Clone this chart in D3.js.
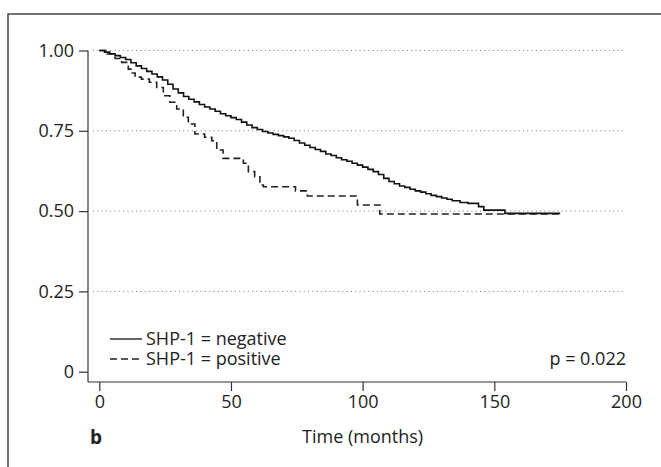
<!DOCTYPE html>
<html>
<head>
<meta charset="utf-8">
<script src="https://cdn.jsdelivr.net/npm/d3@7"></script>
<style>
  body { margin: 0; background: #fff; }
  svg { display: block; font-family: "Open Sans", "Noto Sans", sans-serif; }
</style>
</head>
<body>
<div id="chart"></div>
<script>
// Kaplan-Meier steps: [time in months, survival]
const negTimes = [0, 2, 4, 6, 8, 10, 12, 14, 16, 18, 20, 22, 24, 26, 28, 30, 32, 34, 36, 38, 40,
  42, 44, 46, 48, 50, 52, 54, 56, 58, 60, 62, 64, 66, 68, 70, 72, 74, 76, 78, 80, 82, 84, 86, 88,
  90, 92, 94, 96, 98, 100, 102, 104, 106, 108, 110, 112, 114, 116, 118, 120, 122, 124, 126, 128,
  130, 132, 134, 137, 140, 144, 146, 154, 175];
const negSurv = [1.0, .995, .99, .984, .978, .972, .962, .952, .944, .935, .927, .918, .908, .895,
  .880, .868, .857, .848, .840, .832, .824, .818, .811, .803, .797, .791, .785, .777, .768, .760,
  .754, .748, .743, .739, .735, .731, .727, .720, .712, .705, .698, .692, .686, .678, .673, .666,
  .660, .655, .649, .643, .637, .630, .623, .614, .602, .592, .585, .578, .574, .568, .563, .559,
  .554, .549, .545, .541, .537, .532, .527, .524, .514, .503, .493, .493];

const posTimes = [0, 3, 6, 8.5, 11, 12.5, 13.6, 16, 19, 21.8, 24.3, 26.8, 29.4, 31.9, 33.8, 36.3,
  40, 42.7, 44.6, 47, 54.7, 56.6, 59, 61, 62.3, 74.5, 79, 98, 106.5, 175];
const posSurv = [1.0, .989, .975, .963, .942, .93, .917, .911, .901, .885, .859, .839, .818, .792,
  .771, .740, .730, .719, .690, .664, .649, .623, .607, .581, .576, .563, .547, .519, .491, .491];

const xTicks = [0, 50, 100, 150, 200];
const yTicks = [0, 0.25, 0.5, 0.75, 1];
const yGrid = [0.25, 0.5, 0.75, 1];
const legendLabels = ["SHP-1 = negative", "SHP-1 = positive"];
const pLabel = "p = 0.022";

const W = 661, H = 467;
const FS = 18;
const svg = d3.select("#chart").append("svg").attr("width", W).attr("height", H);

// outer frame (only left/top visible)
svg.append("rect")
  .attr("x", 8).attr("y", 14)
  .attr("width", 700).attr("height", 500)
  .attr("fill", "none").attr("stroke", "#444").attr("stroke-width", 1.5);

const x = d3.scaleLinear().domain([0, 200]).range([99.3, 626]);
const y = d3.scaleLinear().domain([0, 1]).range([371.7, 50.5]);
const axisX = 88, axisY = 382;

// dotted grid
svg.append("g").selectAll("line")
  .data(yGrid)
  .join("line")
  .attr("x1", 93).attr("x2", 626)
  .attr("y1", d => y(d)).attr("y2", d => y(d))
  .attr("stroke", "#777").attr("stroke-width", 1)
  .attr("stroke-dasharray", "1,3.3");

// y axis
const yAxis = svg.append("g")
  .attr("transform", `translate(${axisX},0)`)
  .call(d3.axisLeft(y).tickValues(yTicks).tickSize(9).tickPadding(5)
    .tickFormat(d => d === 0 ? "0" : d3.format(".2f")(d)));
yAxis.select(".domain").attr("d", `M0,${y(1)}V${axisY}`);

// x axis
const xAxis = svg.append("g")
  .attr("transform", `translate(0,${axisY})`)
  .call(d3.axisBottom(x).tickValues(xTicks).tickSize(9).tickPadding(4));
xAxis.select(".domain").attr("d", `M${axisX},0H${x(200)}`);

svg.selectAll(".tick text").attr("font-size", FS).attr("fill", "#222")
  .attr("font-family", "Open Sans, Noto Sans, sans-serif");
svg.selectAll(".domain, .tick line").attr("stroke", "#333").attr("stroke-width", 1.2);

// KM curves
const line = d3.line()
  .x(d => x(d[0]))
  .y(d => y(d[1]))
  .curve(d3.curveStepAfter);

const negData = negTimes.map((t, i) => [t, negSurv[i]]);
const posData = posTimes.map((t, i) => [t, posSurv[i]]);

svg.append("path")
  .datum(posData)
  .attr("d", line)
  .attr("fill", "none").attr("stroke", "#222").attr("stroke-width", 1.6)
  .attr("stroke-dasharray", "7,4");

svg.append("path")
  .datum(negData)
  .attr("d", line)
  .attr("fill", "none").attr("stroke", "#111").attr("stroke-width", 1.6);

// legend
const legend = svg.append("g");
legendLabels.forEach((lab, i) => {
  const ly = 339 + i * 20;
  legend.append("line")
    .attr("x1", 110).attr("x2", 142).attr("y1", ly).attr("y2", ly)
    .attr("stroke", "#222").attr("stroke-width", 1.4)
    .attr("stroke-dasharray", i === 1 ? "7,4" : null);
  legend.append("text")
    .attr("x", 146).attr("y", ly)
    .attr("dy", "0.35em")
    .attr("font-size", FS).attr("fill", "#222")
    .text(lab);
});

svg.append("text")
  .attr("x", 626).attr("y", 359).attr("dy", "0.35em")
  .attr("text-anchor", "end")
  .attr("font-size", FS).attr("fill", "#222")
  .text(pLabel);

svg.append("text")
  .attr("x", (x(0) + x(200)) / 2).attr("y", 437).attr("dy", "0.35em")
  .attr("text-anchor", "middle")
  .attr("font-size", FS).attr("fill", "#222")
  .text("Time (months)");

svg.append("text")
  .attr("x", 90).attr("y", 437).attr("dy", "0.35em")
  .attr("font-size", 19).attr("font-weight", "bold").attr("fill", "#222")
  .text("b");
</script>
</body>
</html>
